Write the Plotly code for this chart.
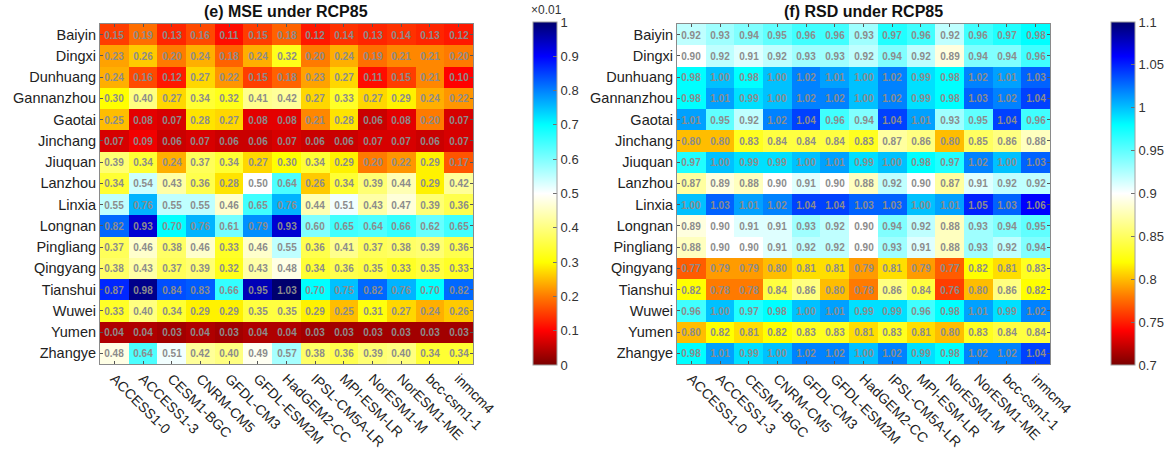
import plotly.graph_objects as go

models = ["ACCESS1-0", "ACCESS1-3", "CESM1-BGC", "CNRM-CM5", "GFDL-CM3", "GFDL-ESM2M",
          "HadGEM2-CC", "IPSL-CM5A-LR", "MPI-ESM-LR", "NorESM1-M", "NorESM1-ME",
          "bcc-csm1-1", "inmcm4"]
stations = ["Baiyin", "Dingxi", "Dunhuang", "Gannanzhou", "Gaotai", "Jinchang", "Jiuquan",
            "Lanzhou", "Linxia", "Longnan", "Pingliang", "Qingyang", "Tianshui", "Wuwei",
            "Yumen", "Zhangye"]

mse = [
    [0.15, 0.19, 0.13, 0.16, 0.11, 0.15, 0.18, 0.12, 0.14, 0.13, 0.14, 0.13, 0.12],
    [0.23, 0.26, 0.20, 0.24, 0.18, 0.24, 0.32, 0.20, 0.24, 0.19, 0.21, 0.21, 0.20],
    [0.24, 0.16, 0.12, 0.27, 0.22, 0.15, 0.18, 0.23, 0.27, 0.11, 0.15, 0.21, 0.10],
    [0.30, 0.40, 0.27, 0.34, 0.32, 0.41, 0.42, 0.27, 0.33, 0.27, 0.29, 0.24, 0.22],
    [0.25, 0.08, 0.07, 0.28, 0.27, 0.08, 0.08, 0.21, 0.28, 0.06, 0.08, 0.20, 0.07],
    [0.07, 0.09, 0.06, 0.07, 0.06, 0.06, 0.07, 0.06, 0.06, 0.07, 0.07, 0.06, 0.07],
    [0.39, 0.34, 0.24, 0.37, 0.34, 0.27, 0.30, 0.34, 0.29, 0.20, 0.22, 0.29, 0.17],
    [0.34, 0.54, 0.43, 0.36, 0.28, 0.50, 0.64, 0.26, 0.34, 0.39, 0.44, 0.29, 0.42],
    [0.55, 0.76, 0.55, 0.55, 0.46, 0.65, 0.76, 0.44, 0.51, 0.43, 0.47, 0.39, 0.36],
    [0.82, 0.93, 0.70, 0.76, 0.61, 0.79, 0.93, 0.60, 0.65, 0.64, 0.66, 0.62, 0.65],
    [0.37, 0.46, 0.38, 0.46, 0.33, 0.46, 0.55, 0.36, 0.41, 0.37, 0.38, 0.39, 0.36],
    [0.38, 0.43, 0.37, 0.39, 0.32, 0.43, 0.48, 0.34, 0.36, 0.35, 0.33, 0.35, 0.33],
    [0.87, 0.98, 0.84, 0.83, 0.66, 0.95, 1.03, 0.70, 0.75, 0.82, 0.76, 0.70, 0.82],
    [0.33, 0.40, 0.34, 0.29, 0.29, 0.35, 0.35, 0.29, 0.25, 0.31, 0.27, 0.24, 0.26],
    [0.04, 0.04, 0.03, 0.04, 0.03, 0.04, 0.04, 0.03, 0.03, 0.03, 0.03, 0.03, 0.03],
    [0.48, 0.64, 0.51, 0.42, 0.40, 0.49, 0.57, 0.38, 0.36, 0.39, 0.40, 0.34, 0.34],
]

rsd = [
    [0.92, 0.93, 0.94, 0.95, 0.96, 0.96, 0.93, 0.97, 0.96, 0.92, 0.96, 0.97, 0.98],
    [0.90, 0.92, 0.91, 0.92, 0.93, 0.93, 0.92, 0.94, 0.92, 0.89, 0.94, 0.94, 0.96],
    [0.98, 1.00, 0.98, 1.00, 1.02, 1.01, 1.00, 1.02, 0.99, 0.98, 1.02, 1.01, 1.03],
    [0.98, 1.01, 0.99, 1.00, 1.02, 1.02, 1.00, 1.02, 0.99, 0.98, 1.03, 1.02, 1.04],
    [1.01, 0.95, 0.92, 1.02, 1.04, 0.96, 0.94, 1.04, 1.01, 0.93, 0.95, 1.04, 0.96],
    [0.80, 0.80, 0.83, 0.84, 0.84, 0.84, 0.83, 0.87, 0.86, 0.80, 0.85, 0.86, 0.88],
    [0.97, 1.00, 0.99, 0.99, 1.00, 1.01, 0.99, 1.00, 0.98, 0.97, 1.02, 1.00, 1.03],
    [0.87, 0.89, 0.88, 0.90, 0.91, 0.90, 0.88, 0.92, 0.90, 0.87, 0.91, 0.92, 0.92],
    [1.00, 1.03, 1.01, 1.02, 1.04, 1.04, 1.03, 1.03, 1.00, 1.01, 1.05, 1.03, 1.06],
    [0.89, 0.90, 0.91, 0.91, 0.93, 0.92, 0.90, 0.94, 0.92, 0.88, 0.93, 0.94, 0.95],
    [0.88, 0.90, 0.90, 0.91, 0.92, 0.92, 0.90, 0.93, 0.91, 0.88, 0.93, 0.92, 0.94],
    [0.77, 0.79, 0.79, 0.80, 0.81, 0.81, 0.79, 0.81, 0.79, 0.77, 0.82, 0.81, 0.83],
    [0.82, 0.78, 0.78, 0.84, 0.86, 0.80, 0.78, 0.86, 0.84, 0.76, 0.80, 0.86, 0.82],
    [0.96, 1.00, 0.97, 0.98, 1.00, 1.01, 0.99, 0.99, 0.96, 0.98, 1.01, 0.99, 1.02],
    [0.80, 0.82, 0.81, 0.82, 0.83, 0.83, 0.81, 0.83, 0.81, 0.80, 0.83, 0.84, 0.84],
    [0.98, 1.01, 0.99, 1.00, 1.02, 1.02, 1.00, 1.02, 0.99, 0.98, 1.02, 1.02, 1.04],
]

mse_ticks = [0, 0.1, 0.2, 0.3, 0.4, 0.5, 0.6, 0.7, 0.8, 0.9, 1]
mse_ticktext = ["0", "0.1", "0.2", "0.3", "0.4", "0.5", "0.6", "0.7", "0.8", "0.9", "1"]
rsd_ticks = [0.7, 0.75, 0.8, 0.85, 0.9, 0.95, 1.0, 1.05, 1.1]
rsd_ticktext = ["0.7", "0.75", "0.8", "0.85", "0.9", "0.95", "1", "1.05", "1.1"]

W, H = 1172, 461
FONT = "Arial, Liberation Sans, Helvetica, sans-serif"

cscale = [[0.0, "#7a0000"], [0.1, "#ff0000"], [0.2, "#ff7a00"], [0.3, "#ffff00"],
          [0.5, "#ffffff"], [0.7, "#00ffff"], [0.8, "#0082ff"], [0.9, "#0000ff"],
          [1.0, "#00006e"]]

def px_x(p):
    return p / W

def px_y(p):
    return 1 - p / H

top, bot = 24, 364
cb_top, cb_bot = 22, 365

def cbar(x_left, tv, tt):
    return dict(
        x=px_x(x_left), xanchor="left", xpad=0, ypad=0,
        y=px_y((cb_top + cb_bot) / 2), yanchor="middle",
        len=(cb_bot - cb_top) / H, lenmode="fraction",
        thickness=24, thicknessmode="pixels",
        tickvals=tv, ticktext=tt, ticks="inside", ticklen=4,
        tickcolor="#707070", outlinecolor="#a0a0a0", outlinewidth=1,
        tickfont=dict(family=FONT, size=13, color="#333333"),
    )

fig = go.Figure()
fig.add_trace(go.Heatmap(
    z=mse, x=models, y=stations, colorscale=cscale, zmin=0, zmax=1,
    texttemplate="<b>%{z:.2f}</b>", textfont=dict(family=FONT, size=10, color="#8c8c8c"),
    colorbar=cbar(533, mse_ticks, mse_ticktext), xaxis="x", yaxis="y",
    hoverinfo="skip",
))
fig.add_trace(go.Heatmap(
    z=rsd, x=models, y=stations, colorscale=cscale, zmin=0.7, zmax=1.1,
    texttemplate="<b>%{z:.2f}</b>", textfont=dict(family=FONT, size=10, color="#8c8c8c"),
    colorbar=cbar(1111, rsd_ticks, rsd_ticktext), xaxis="x2", yaxis="y2",
    hoverinfo="skip",
))

axis_common = dict(
    showline=True, linecolor="#8a8a8a", linewidth=1, mirror="ticks",
    ticks="inside", ticklen=3, tickcolor="#555555", showgrid=False, zeroline=False,
    automargin=False,
)
xfont = dict(family=FONT, size=14, color="#222222")
yfont = dict(family=FONT, size=14.5, color="#222222")

fig.update_layout(
    width=W, height=H, margin=dict(l=0, r=0, t=0, b=0),
    paper_bgcolor="white", plot_bgcolor="white", showlegend=False,
    xaxis=dict(domain=[px_x(100), px_x(473)], anchor="y", tickangle=45,
               tickfont=xfont, **axis_common),
    yaxis=dict(domain=[px_y(bot), px_y(top)], anchor="x", autorange="reversed",
               tickfont=yfont, **axis_common),
    xaxis2=dict(domain=[px_x(677), px_x(1050)], anchor="y2", tickangle=45,
                tickfont=xfont, **axis_common),
    yaxis2=dict(domain=[px_y(bot), px_y(top)], anchor="x2", autorange="reversed",
                tickfont=yfont, **axis_common),
    annotations=[
        dict(text="<b>(e) MSE under RCP85</b>", x=px_x(286), y=px_y(12),
             xref="paper", yref="paper", showarrow=False, xanchor="center", yanchor="middle",
             font=dict(family=FONT, size=16, color="#111111")),
        dict(text="<b>(f) RSD under RCP85</b>", x=px_x(863), y=px_y(12),
             xref="paper", yref="paper", showarrow=False, xanchor="center", yanchor="middle",
             font=dict(family=FONT, size=16, color="#111111")),
        dict(text="×0.01", x=px_x(546), y=px_y(10),
             xref="paper", yref="paper", showarrow=False, xanchor="center", yanchor="middle",
             font=dict(family=FONT, size=12, color="#333333")),
    ],
)

fig.write_html("out.html")
